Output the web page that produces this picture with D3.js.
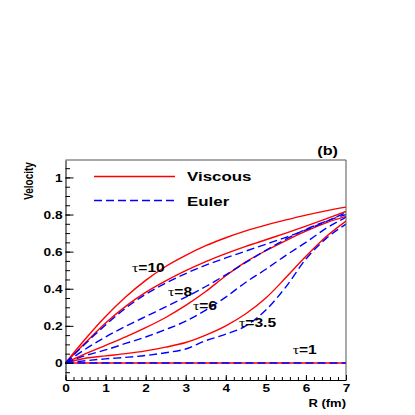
<!DOCTYPE html>
<html>
<head>
<meta charset="utf-8">
<script src="https://cdn.jsdelivr.net/npm/d3@7"></script>
<style>
  body { margin: 0; background: #fff; }
  text { font-family: "Liberation Sans", Arial, sans-serif; font-weight: bold; fill: #000; }
</style>
</head>
<body>
<script>
// radius points (fm)
const R = [0, 0.5, 1, 1.5, 2, 2.5, 3, 3.5, 4, 4.5, 5, 5.5, 6, 6.5, 7];

// viscous (red, solid)
const viscous10  = [0, 0.13, 0.25, 0.355, 0.445, 0.52, 0.58, 0.632, 0.675, 0.712, 0.743, 0.771, 0.797, 0.82, 0.84];
const viscous8   = [0, 0.11, 0.215, 0.305, 0.38, 0.442, 0.497, 0.546, 0.589, 0.628, 0.664, 0.7, 0.738, 0.777, 0.817];
const viscous6   = [0, 0.05, 0.095, 0.14, 0.19, 0.245, 0.31, 0.385, 0.47, 0.545, 0.605, 0.66, 0.71, 0.755, 0.79];
const viscous3_5 = [0, 0.025, 0.038, 0.05, 0.065, 0.085, 0.11, 0.15, 0.2, 0.265, 0.35, 0.46, 0.575, 0.68, 0.765];
const viscous1   = [0, 0, 0, 0, 0, 0, 0, 0, 0, 0, 0, 0, 0, 0, 0];

// ideal (blue, dashed)
const euler10  = [0, 0.105, 0.205, 0.295, 0.37, 0.43, 0.482, 0.527, 0.566, 0.603, 0.64, 0.677, 0.717, 0.762, 0.81];
const euler8   = [0, 0.075, 0.14, 0.197, 0.25, 0.302, 0.355, 0.412, 0.475, 0.542, 0.607, 0.667, 0.72, 0.763, 0.8];
const euler6   = [0, 0.04, 0.07, 0.105, 0.14, 0.18, 0.225, 0.285, 0.355, 0.435, 0.505, 0.58, 0.65, 0.725, 0.785];
const euler3_5 = [0, 0.012, 0.022, 0.03, 0.04, 0.055, 0.075, 0.12, 0.155, 0.2, 0.285, 0.41, 0.56, 0.67, 0.748];
const euler1   = [0, 0, 0, 0, 0, 0, 0, 0, 0, 0, 0, 0, 0, 0, 0];

const xTicks = [0, 1, 2, 3, 4, 5, 6, 7];
const yTicks = [0, 0.2, 0.4, 0.6, 0.8, 1];
const tauLabels = [
  { tau: "10",  r: 1.66, v: 0.49 },
  { tau: "8",   r: 2.56, v: 0.36 },
  { tau: "6",   r: 3.18, v: 0.285 },
  { tau: "3.5", r: 4.33, v: 0.195 },
  { tau: "1",   r: 5.67, v: 0.048 }
];

const W = 415, H = 415;
const stretch = 1.3; // the original canvas is wider than tall, text looks stretched

const svg = d3.select("body").append("svg")
  .attr("width", W)
  .attr("height", H);

const x = d3.scaleLinear().domain([0, 7]).range([65.5, 346]);
const y = d3.scaleLinear().domain([-0.092, 1.094]).range([380, 160]);

// stretched text helper
function stext(g, px, py, str, size, anchor) {
  return g.append("text")
    .attr("transform", `translate(${px},${py}) scale(${stretch},1)`)
    .attr("text-anchor", anchor || "start")
    .style("font-size", size + "px")
    .text(str);
}

svg.append("clipPath").attr("id", "frame")
  .append("rect")
  .attr("x", x(0)).attr("y", y.range()[1])
  .attr("width", x(7) - x(0)).attr("height", y.range()[0] - y.range()[1]);

// curves, viscous under the dashed ideal ones
const line = d3.line()
  .x((d, i) => x(R[i]))
  .y(d => y(d))
  .curve(d3.curveMonotoneX);

const plot = svg.append("g").attr("clip-path", "url(#frame)");
[viscous10, viscous8, viscous6, viscous3_5, viscous1].forEach(s => {
  plot.append("path").attr("d", line(s))
    .attr("fill", "none").attr("stroke", "#ff0000").attr("stroke-width", 1.4);
});
[euler10, euler8, euler6, euler3_5, euler1].forEach(s => {
  plot.append("path").attr("d", line(s))
    .attr("fill", "none").attr("stroke", "#0000ff").attr("stroke-width", 1.4)
    .attr("stroke-dasharray", "8,4");
});

// frame top/right
svg.append("path")
  .attr("d", `M${x(0)},${y.range()[1]}H${x(7)}V${y.range()[0]}`)
  .attr("fill", "none").attr("stroke", "#555").attr("stroke-width", 1);

// x axis, ticks pointing up
const minorX = d3.range(0, 7.001, 0.2);
svg.append("g").attr("transform", `translate(0,${y.range()[0]})`)
  .call(d3.axisBottom(x).tickValues(minorX).tickSize(-3).tickSizeOuter(0).tickFormat(""))
  .call(g => g.select(".domain").remove());
const xAxis = svg.append("g").attr("transform", `translate(0,${y.range()[0]})`)
  .call(d3.axisBottom(x).tickValues(xTicks).tickSize(-5).tickSizeOuter(0).tickFormat(d3.format("d")));
xAxis.selectAll("text").remove();
xAxis.selectAll(".tick").each(function(d) {
  stext(d3.select(this), 0, 12, String(d), 10.5, "middle");
});

// y axis, ticks pointing right
const minorY = d3.range(-0.05, 1.0501, 0.05);
svg.append("g").attr("transform", `translate(${x(0)},0)`)
  .call(d3.axisLeft(y).tickValues(minorY).tickSize(-4.5).tickSizeOuter(0).tickFormat(""))
  .call(g => g.select(".domain").remove());
const yAxis = svg.append("g").attr("transform", `translate(${x(0)},0)`)
  .call(d3.axisLeft(y).tickValues(yTicks).tickSize(-8).tickSizeOuter(0).tickFormat(d3.format("~g")));
yAxis.selectAll("text").remove();
yAxis.selectAll(".tick").each(function(d) {
  stext(d3.select(this), -3, 3.8, d3.format("~g")(d), 10.5, "end");
});

svg.selectAll(".domain").attr("stroke", "#000");
svg.selectAll(".tick line").attr("stroke", "#000");

// axis titles
stext(svg, 346, 407, "R (fm)", 10, "end");
svg.append("text")
  .attr("transform", `translate(33,181) scale(${stretch},1) rotate(-90)`)
  .attr("text-anchor", "middle")
  .style("font-size", "10px")
  .text("Velocity");
stext(svg, 338, 155, "(b)", 12.5, "end");

// legend
const legend = svg.append("g");
legend.append("line")
  .attr("x1", 94).attr("x2", 175).attr("y1", 176.5).attr("y2", 176.5)
  .attr("stroke", "#ff0000").attr("stroke-width", 1.4);
legend.append("line")
  .attr("x1", 94).attr("x2", 175).attr("y1", 200.5).attr("y2", 200.5)
  .attr("stroke", "#0000ff").attr("stroke-width", 1.4).attr("stroke-dasharray", "8,4");
stext(legend, 187, 180.5, "Viscous", 13);
stext(legend, 187, 205.5, "Euler", 13);

// tau labels
tauLabels.forEach(l => {
  const t = svg.append("text")
    .attr("transform", `translate(${x(l.r)},${y(l.v)}) scale(${stretch},1)`)
    .style("font-size", "12px");
  t.append("tspan").style("font-family", "'Liberation Serif', serif").style("font-weight", "normal").text("τ");
  t.append("tspan").text("=" + l.tau);
});
</script>
</body>
</html>
